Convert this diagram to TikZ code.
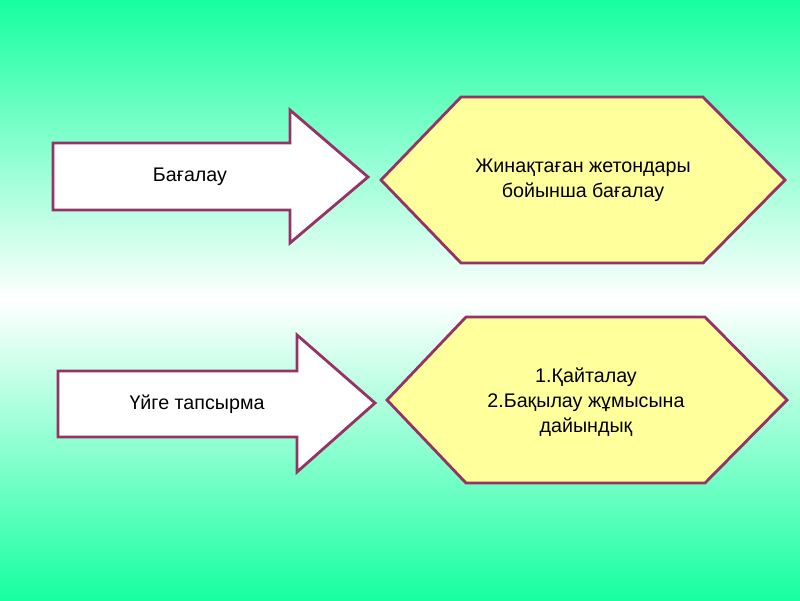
\documentclass[tikz,border=0pt]{standalone}
\usepackage{fontspec}
\setmainfont{Liberation Sans}
\definecolor{fondvert}{RGB}{22,255,160}
\definecolor{bord}{RGB}{150,50,100}
\definecolor{jaune}{RGB}{255,255,155}

\begin{document}
\begin{tikzpicture}[x=0.025cm, y=-0.025cm,
  fleche/.style={draw=bord, line width=2pt, fill=white},
  hexa/.style={draw=bord, line width=2pt, fill=jaune},
  texte/.style={align=center, font=\fontsize{14}{17.8}\selectfont}
]
  % Fond
  \shade[top color=fondvert, bottom color=white] (0,0) rectangle (800,300);
  \shade[top color=white, bottom color=fondvert] (0,300) rectangle (800,600);
  \useasboundingbox (0,0) rectangle (800,600);
  % Fleches
  \draw[fleche] (53,143) -- (290,143) -- (290,110) -- (368,177) -- (290,243) -- (290,210) -- (53,210) -- cycle;
  \node[texte] (bagalau) at (190,177) {Бағалау};
  \draw[fleche] (58,371) -- (297,371) -- (297,335) -- (375,403) -- (297,472) -- (297,437) -- (58,437) -- cycle;
  \node[texte] (uige) at (197,404) {Үйге тапсырма};
  % Hexagones
  \draw[hexa] (381,180) -- (461,97) -- (703,97) -- (785,180) -- (703,263) -- (461,263) -- cycle;
  \node[texte] (jeton) at (583,180) {Жинақтаған жетондары\\бойынша бағалау};
  \draw[hexa] (387,400) -- (466,317) -- (705,317) -- (787,400) -- (705,483) -- (466,483) -- cycle;
  \node[texte] (kaitalau) at (586,402) {1.Қайталау\\2.Бақылау жұмысына\\дайындық};
\end{tikzpicture}
\end{document}
